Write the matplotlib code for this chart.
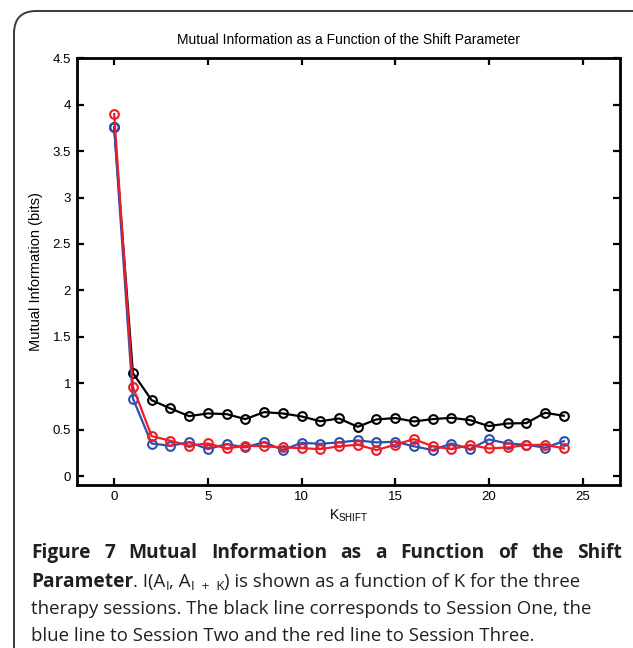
import matplotlib
matplotlib.use("Agg")
import matplotlib.pyplot as plt
from matplotlib.patches import FancyBboxPatch
from matplotlib.transforms import IdentityTransform

# ---------------- data ----------------
k_shift = list(range(25))
session_one = [3.76, 1.11, 0.817, 0.728, 0.645, 0.674, 0.667, 0.613, 0.688, 0.674,
               0.642, 0.59, 0.62, 0.53, 0.61, 0.624, 0.588, 0.613, 0.627, 0.602,
               0.538, 0.566, 0.57, 0.681, 0.649]
session_two = [3.76, 0.835, 0.35, 0.326, 0.365, 0.29, 0.344, 0.308, 0.365, 0.28,
               0.358, 0.347, 0.362, 0.384, 0.362, 0.369, 0.32, 0.28, 0.35, 0.29,
               0.394, 0.35, 0.337, 0.305, 0.376]
session_three = [3.90, 0.96, 0.43, 0.38, 0.326, 0.351, 0.297, 0.326, 0.32, 0.308,
                 0.30, 0.29, 0.32, 0.337, 0.28, 0.337, 0.398, 0.32, 0.29, 0.333,
                 0.297, 0.308, 0.333, 0.337, 0.297]
x_ticks = [0, 5, 10, 15, 20, 25]
y_ticks = [0, 0.5, 1, 1.5, 2, 2.5, 3, 3.5, 4, 4.5]
y_tick_labels = ["0", "0.5", "1", "1.5", "2", "2.5", "3", "3.5", "4", "4.5"]

title = "Mutual Information as a Function of the Shift Parameter"
ylabel = "Mutual Information (bits)"

W, H = 633, 648
DPI = 100
fig = plt.figure(figsize=(W / DPI, H / DPI), dpi=DPI)
fig.patch.set_facecolor("white")

# rounded frame
frame = FancyBboxPatch((14 / W, -0.2), 1.2, (H - 11) / H + 0.2,
                       boxstyle="round,pad=0,rounding_size=0.035",
                       transform=fig.transFigure, fill=False,
                       edgecolor="#3a3a3a", linewidth=1.4, clip_on=False)
fig.patches.append(frame)

ax_left, ax_right, ax_top, ax_bottom = 76.7, 620, 58.3, 485.3
ax = fig.add_axes([ax_left / W, 1 - ax_bottom / H,
                   (ax_right - ax_left) / W, (ax_bottom - ax_top) / H])

ff = "Liberation Sans"
lw = 1.6
ms = 6.3
ax.plot(k_shift, session_one, color="black", lw=lw, marker="o", ms=ms,
        mfc="none", mew=1.5)
ax.plot(k_shift, session_two, color="#2f4fb0", lw=lw, marker="o", ms=ms,
        mfc="none", mew=1.5)
ax.plot(k_shift, session_three, color="#ee1c25", lw=lw, marker="o", ms=ms,
        mfc="none", mew=1.5)

ax.set_xlim(-2, 27)
ax.set_ylim(-0.1, 4.5)
ax.set_xticks(x_ticks)
ax.set_xticklabels([str(t) for t in x_ticks], fontfamily=ff, fontsize=9.5)
ax.set_yticks(y_ticks)
ax.set_yticklabels(y_tick_labels, fontfamily=ff, fontsize=9.5)
ax.tick_params(direction="in", length=5, width=1.6, top=True, right=True,
               pad=4, colors="black")
for s in ax.spines.values():
    s.set_linewidth(2.0)
    s.set_color("black")

ax.set_title(title, fontfamily=ff, fontsize=10, pad=10)
ax.set_ylabel(ylabel, fontfamily=ff, fontsize=10.5)
ax.yaxis.set_label_coords(-0.062, 0.5)
ax.set_xlabel(r"$\mathregular{K_{SHIFT}}$", fontfamily=ff, fontsize=10)
ax.xaxis.set_label_coords(0.5, -0.052)

# ---------------- caption ----------------
cap_font = "Open Sans"
cap_color = "#231f20"
fs = 13.4
renderer = fig.canvas.get_renderer()
ident = IdentityTransform()


def width_of(t):
    return t.get_window_extent(renderer).width


def put_runs(x, ytop, runs):
    ybase = H - ytop
    for text, weight, size, dy in runs:
        t = fig.text(x, ybase + dy, text, transform=ident, fontfamily=cap_font,
                     fontweight=weight, fontsize=size, color=cap_color,
                     ha="left", va="baseline")
        x += width_of(t)
    return x


# line 1 justified, bold
words1 = ["Figure", "7", "Mutual", "Information", "as", "a", "Function", "of",
          "the", "Shift"]
left, right = 31, 622
base1 = H - 558
texts = [fig.text(0, base1, w, transform=ident, fontfamily=cap_font,
                  fontweight="bold", fontsize=fs + 0.4, color=cap_color,
                  ha="left", va="baseline") for w in words1]
widths = [width_of(t) for t in texts]
gap = (right - left - sum(widths)) / (len(words1) - 1)
x = left
for t, w in zip(texts, widths):
    t.set_x(x)
    x += w + gap

sub = fs * 0.72
put_runs(31, 587, [("Parameter", "bold", fs + 0.4, 0),
                   (". I(A", "normal", fs, 0),
                   ("I", "normal", sub, -3),
                   (", A", "normal", fs, 0),
                   ("I  +  K", "normal", sub, -3),
                   (") is shown as a function of K for the three", "normal", fs, 0)])
put_runs(31, 614, [("therapy sessions. The black line corresponds to Session One, the",
                    "normal", fs, 0)])
put_runs(31, 641, [("blue line to Session Two and the red line to Session Three.",
                    "normal", fs, 0)])

fig.savefig("out.png", dpi=DPI)
